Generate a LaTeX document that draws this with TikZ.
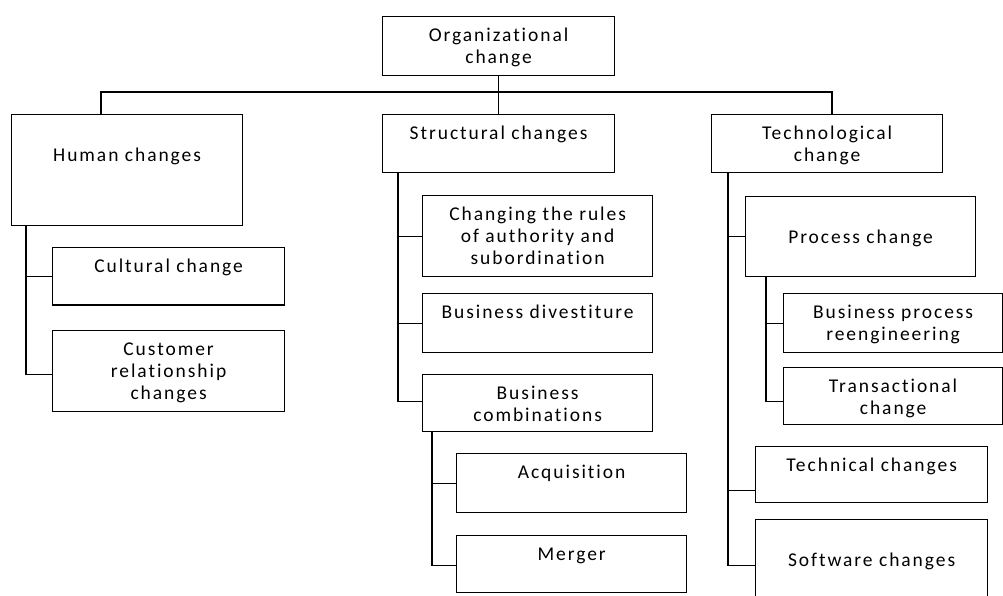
\documentclass[tikz,border=0pt]{standalone}
\usepackage{fontspec}
\setmainfont{Carlito}[LetterSpace=10, Ligatures=CommonOff]
\usepackage{tikz}

\tikzset{
  chbox/.style={draw, line width=1.2pt, anchor=north west, inner xsep=2pt, inner ysep=0pt,
    align=center, text height=25pt, font=\fontsize{19.5}{21.7}\selectfont},
  chtop/.style={text height=46.7pt},
  chtwo/.style={text height=46.7pt},
  chthree/.style={text height=68.4pt},
  chline/.style={line width=1.2pt}
}

\begin{document}
\begin{tikzpicture}[x=1pt,y=1pt,yscale=-1,xscale=1]
\useasboundingbox (0,0) rectangle (1003,595);
\clip (0,0) rectangle (1003,595);

%Shape: Rectangle [root]
\node [chbox, chtwo, minimum width=232pt, text depth=11.9pt] (root) at (382,16) {Organizational\\change};

%Shape: Rectangle [first level]
\node [chbox, chtop, minimum width=231pt, text depth=64.3pt] (human) at (11,114) {Human changes};
\node [chbox, minimum width=232pt, text depth=32.7pt] (struct) at (382,114) {Structural changes};
\node [chbox, chtwo, minimum width=231pt, text depth=11.3pt] (tech) at (711,114) {Technological\\change};

%Shape: Rectangle [human changes]
\node [chbox, minimum width=232pt, text depth=32.3pt] (cult) at (52,247) {Cultural change};
\node [chbox, chthree, minimum width=232pt, text depth=12.6pt] (cust) at (52,330) {Customer\\relationship\\changes};

%Shape: Rectangle [structural changes]
\node [chbox, chthree, minimum width=230pt, text depth=12.6pt] (rules) at (422,195) {Changing the rules\\of authority and\\subordination};
\node [chbox, minimum width=230pt, text depth=34pt] (divest) at (422,293) {Business divestiture};
\node [chbox, chtwo, minimum width=230pt, text depth=10.3pt] (comb) at (422,374) {Business\\combinations};
\node [chbox, minimum width=230pt, text depth=34pt] (acq) at (456,453) {Acquisition};
\node [chbox, minimum width=230pt, text depth=32pt] (merg) at (456,535) {Merger};

%Shape: Rectangle [technological change]
\node [chbox, chtop, minimum width=230pt, text depth=33.3pt] (proc) at (745,196) {Process change};
\node [chbox, chtwo, minimum width=219pt, text depth=12.3pt] (bpr) at (783,293) {Business process\\reengineering};
\node [chbox, chtwo, minimum width=219pt, text depth=10.3pt] (trans) at (783,367) {Transactional\\change};
\node [chbox, minimum width=232pt, text depth=31pt] (techn) at (755,446) {Technical changes};
\node [chbox, chtop, minimum width=232pt, text depth=45.3pt] (soft) at (755,519) {Software changes};

%Straight Lines [top bus]
\coordinate (bus) at (0,92);
\draw [chline] (root.south) -- (struct.north);
\draw [chline] ([xshift=90pt]human.north west) |- (root.south |- bus);
\draw [chline] (root.south |- bus) -| ([xshift=121pt]tech.north west);

%Straight Lines [human changes]
\draw [chline] ([xshift=15pt]human.south west) |- ([yshift=3pt]cust.west);
\draw [chline] ([xshift=15pt]human.south west |- cult.west) -- (cult.west);

%Straight Lines [structural changes]
\draw [chline] ([xshift=16pt]struct.south west) |- ([yshift=-1.5pt]comb.west);
\draw [chline] ([xshift=16pt]struct.south west |- rules.west) -- (rules.west);
\draw [chline] ([xshift=16pt]struct.south west |- divest.west) -- (divest.west);
\draw [chline] ([xshift=10pt]comb.south west) |- ([yshift=1.5pt]merg.west);
\draw [chline] ([xshift=10pt]comb.south west |- acq.west) -- (acq.west);

%Straight Lines [technological change]
\draw [chline] ([xshift=17pt]tech.south west) |- (soft.west);
\draw [chline] ([xshift=17pt]tech.south west |- proc.west) -- (proc.west);
\draw [chline] ([xshift=17pt]tech.south west |- techn.west) ++(0,16) -- ([yshift=16pt]techn.west);
\draw [chline] ([xshift=21pt]proc.south west) |- ([yshift=5pt]trans.west);
\draw [chline] ([xshift=21pt]proc.south west |- bpr.west) -- (bpr.west);

\end{tikzpicture}
\end{document}
